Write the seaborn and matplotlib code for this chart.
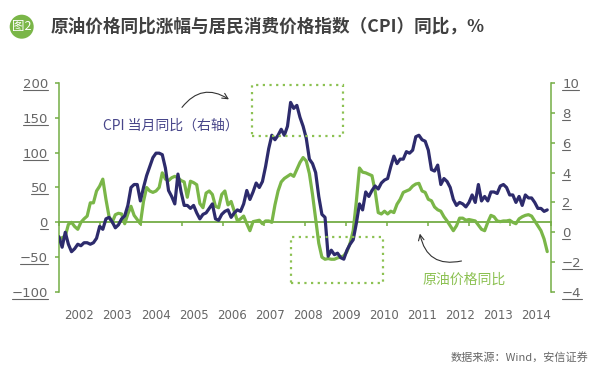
"""
原油价格同比涨幅与居民消费价格指数（CPI）同比
"""

import numpy as np
import pandas as pd
import matplotlib
matplotlib.use("Agg")
import matplotlib.pyplot as plt
from matplotlib.patches import Rectangle
from matplotlib.lines import Line2D
from matplotlib.transforms import IdentityTransform
import seaborn as sns

sns.set_style("white")
plt.rcParams["font.family"] = ["Noto Sans CJK SC", "DejaVu Sans"]

# 配色
GREEN = "#7ab648"
AXIS_GREEN = "#74ad45"
DOT_GREEN = "#8cc152"
NAVY = "#2d2b6c"
GRAY = "#666666"

# 数据：2001-12 ~ 2014-12 月度同比，%
months = pd.date_range("2001-12-01", "2014-12-01", freq="MS")
cpi_yoy = [
    -0.3,
    -1.0, 0.0, -0.8, -1.3, -1.1, -0.8, -0.9, -0.7, -0.7, -0.8, -0.7, -0.4,
    0.4, 0.2, 0.9, 1.0, 0.7, 0.3, 0.5, 0.9, 1.1, 1.8, 3.0, 3.2,
    3.2, 2.1, 3.0, 3.8, 4.4, 5.0, 5.3, 5.3, 5.2, 4.3, 2.8, 2.4,
    1.9, 3.9, 2.7, 1.8, 1.8, 1.6, 1.8, 1.3, 0.9, 1.2, 1.3, 1.6,
    1.9, 0.9, 0.8, 1.2, 1.4, 1.5, 1.0, 1.3, 1.5, 1.4, 1.9, 2.8,
    2.2, 2.7, 3.3, 3.0, 3.4, 4.4, 5.6, 6.5, 6.2, 6.5, 6.9, 6.5,
    7.1, 8.7, 8.3, 8.5, 7.7, 7.1, 6.3, 4.9, 4.6, 4.0, 2.4, 1.2,
    1.0, -1.6, -1.2, -1.5, -1.4, -1.7, -1.8, -1.2, -0.8, -0.5, 0.6, 1.9,
    1.5, 2.7, 2.4, 2.8, 3.1, 2.9, 3.3, 3.5, 3.6, 4.4, 5.1, 4.6,
    4.9, 4.9, 5.4, 5.3, 5.5, 6.4, 6.5, 6.2, 6.1, 5.5, 4.2, 4.1,
    4.5, 3.2, 3.6, 3.4, 3.0, 2.2, 1.8, 2.0, 1.9, 1.7, 2.0, 2.5,
    2.0, 3.2, 2.1, 2.4, 2.1, 2.7, 2.7, 2.6, 3.1, 3.2, 3.0, 2.5,
    2.5, 2.0, 2.4, 1.8, 2.5, 2.3, 2.3, 2.0, 1.6, 1.6, 1.4, 1.5,
]
oil_yoy = [
    -25,
    -22, -20, -3, 0, -6, -10, 0, 5, 9, 28, 28, 45,
    52, 62, 33, 8, 0, 11, 13, 12, -2, 12, 23, 10,
    4, -2, 30, 50, 45, 43, 45, 50, 71, 62, 60, 64,
    66, 64, 60, 58, 36, 59, 57, 54, 27, 21, 42, 45,
    40, 23, 21, 40, 45, 25, 30, 16, 2, 5, 9, -2,
    -12, 1, 2, 3, -2, 2, 2, 0, 25, 45, 58, 63,
    66, 69, 66, 76, 86, 93, 88, 70, 40, 5, -30, -50,
    -53, -52, -53, -53, -51, -50, -48, -42, -30, -12, 30, 78,
    72, 71, 69, 67, 45, 14, 12, 16, 12, 16, 14, 26,
    33, 43, 45, 47, 52, 55, 56, 45, 43, 33, 31, 22,
    18, 16, 8, 2, -5, -12, -5, 6, 6, 3, 4, 3,
    2, -4, -10, -12, 0, 10, 8, 2, 1, 2, 2, 3,
    0, -2, 5, 8, 10, 11, 9, 2, -5, -12, -24, -42,
]
left_ticks = [-100, -50, 0, 50, 100, 150, 200]
right_ticks = [-4, -2, 0, 2, 4, 6, 8, 10]
year_labels = ["2002", "2003", "2004", "2005", "2006", "2007", "2008",
               "2009", "2010", "2011", "2012", "2013", "2014"]

df = pd.DataFrame({"month": np.arange(len(months)), "cpi": cpi_yoy, "oil": oil_yoy})
XMAX = 157.2


def fmt(v):
    return str(v).replace("-", "\u2212")


fig = plt.figure(figsize=(5.93, 3.72), dpi=100)
ax = fig.add_axes([59 / 593, 1 - 292 / 372, 492 / 593, 209 / 372])
ax2 = ax.twinx()

sns.lineplot(data=df, x="month", y="oil", ax=ax, color=GREEN, lw=2.3, zorder=3)
sns.lineplot(data=df, x="month", y="cpi", ax=ax2, color=NAVY, lw=2.3, zorder=3)

ax.set_xlim(0, XMAX)
ax.set_ylim(-100, 200)
ax2.set_ylim(-4, 10)
for a in (ax, ax2):
    a.set_xlabel("")
    a.set_ylabel("")

# 左轴
ax.set_yticks(left_ticks)
ax.set_yticklabels([fmt(v) for v in left_ticks], fontfamily="DejaVu Sans")
ax.tick_params(axis="y", direction="out", length=3, width=1.1, color=AXIS_GREEN,
               labelcolor=GRAY, labelsize=9.5, pad=5, left=True)
ax.spines["left"].set_color(AXIS_GREEN)
ax.spines["left"].set_linewidth(1.1)
ax.spines["top"].set_visible(False)
ax.spines["right"].set_visible(False)

# 零轴线
ax.spines["bottom"].set_position(("data", 0))
ax.spines["bottom"].set_color(AXIS_GREEN)
ax.spines["bottom"].set_linewidth(1.3)
ax.set_xticks(np.linspace(0, XMAX, 13))
ax.tick_params(axis="x", direction="out", length=3, width=1.1, color=AXIS_GREEN,
               labelbottom=False, bottom=True)

# 右轴
ax2.set_yticks(right_ticks)
ax2.set_yticklabels([fmt(v) for v in right_ticks], fontfamily="DejaVu Sans")
ax2.tick_params(axis="y", direction="out", length=3, width=1.1, color=AXIS_GREEN,
                labelcolor=GRAY, labelsize=9.5, pad=5, right=True)
for s in ("top", "left", "bottom"):
    ax2.spines[s].set_visible(False)
ax2.spines["right"].set_color(AXIS_GREEN)
ax2.spines["right"].set_linewidth(1.1)

# 年份标签
sec = ax.secondary_xaxis("bottom")
sec.set_xticks(6.5 + np.arange(len(year_labels)) * 12.17)
sec.set_xticklabels(year_labels, fontfamily="DejaVu Sans")
sec.tick_params(length=0, pad=12, labelsize=8.5, labelcolor=GRAY)
sec.spines["bottom"].set_visible(False)

# 虚线框
for (x0, y0, w, h) in [(61.7, 123.4, 29.0, 73.2), (74.1, -87.6, 29.4, 66.1)]:
    ax2.add_patch(Rectangle((x0, y0), w, h, fill=False, ec=DOT_GREEN, lw=1.6,
                            ls=(0, (1, 2)), transform=ax.transData, clip_on=False,
                            zorder=4))

# 注释
ax.text(14.1, 139, "CPI 当月同比（右轴）", fontsize=10, color="#48468a",
        ha="left", va="center")
ax.annotate("", xy=(54.3, 176.5), xytext=(39.3, 165),
            arrowprops=dict(arrowstyle="->", color="#333333", lw=0.8,
                            connectionstyle="arc3,rad=-0.45", shrinkA=0, shrinkB=0),
            annotation_clip=False)
ax.text(116.3, -83, "原油价格同比", fontsize=10, color=DOT_GREEN,
        ha="left", va="center")
ax.annotate("", xy=(115.3, -16.2), xytext=(128.6, -55.5),
            arrowprops=dict(arrowstyle="->", color="#333333", lw=0.8,
                            connectionstyle="arc3,rad=-0.5", shrinkA=0, shrinkB=0),
            annotation_clip=False)

# 标题与来源
fig.text(21.7 / 593, 1 - 26.7 / 372, "图2", fontsize=9, color="white",
         ha="center", va="center",
         bbox=dict(boxstyle="circle,pad=0.18", fc=GREEN, ec="none"))
fig.text(51 / 593, 1 - 26 / 372, "原油价格同比涨幅与居民消费价格指数（CPI）同比，%",
         fontsize=12.7, fontweight="bold", color="#404040", ha="left", va="center")
fig.text(588 / 593, 1 - 357 / 372, "数据来源：Wind，安信证券", fontsize=8,
         color="#666666", ha="right", va="center")

# 刻度标签下划线
fig.canvas.draw()
renderer = fig.canvas.get_renderer()
for lab in ax.get_yticklabels() + ax2.get_yticklabels():
    bb = lab.get_window_extent(renderer)
    yl = bb.y0 + 1
    fig.add_artist(Line2D([bb.x0, bb.x1], [yl, yl], transform=IdentityTransform(),
                          color=GRAY, lw=0.8))

fig.savefig("out.png", dpi=100)
